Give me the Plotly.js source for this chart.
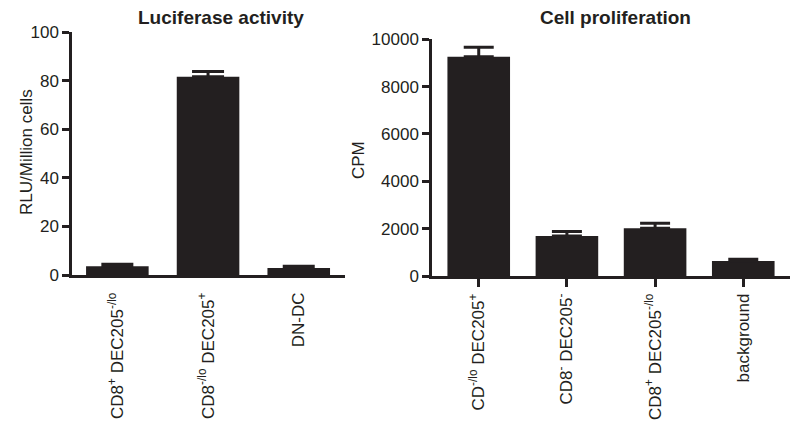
<!DOCTYPE html>
<html>
<head>
<meta charset="utf-8">
<script src="https://cdn.plot.ly/plotly-3.0.1.min.js"></script>
<style>
  html, body { margin: 0; padding: 0; background: #fff; }
  #graph1 { width: 800px; height: 432px; }
</style>
</head>
<body>
<div id="graph1"></div>
<script>
(function() {
  // Luciferase activity (left panel)
  const lucCats = ['CD8<sup>+</sup> DEC205<sup>-/lo</sup>', 'CD8<sup>-/lo</sup> DEC205<sup>+</sup>', 'DN-DC'];
  const lucValues = [3.6, 81.6, 2.9];
  const lucErr = [0.8, 2.1, 0.7];

  // Cell proliferation (right panel)
  const prolCats = ['CD<sup>-/lo</sup> DEC205<sup>+</sup>', 'CD8<sup>-</sup> DEC205<sup>-</sup>', 'CD8<sup>+</sup> DEC205<sup>-/lo</sup>', 'background'];
  const prolValues = [9265, 1690, 2015, 634];
  const prolErr = [400, 185, 210, 70];

  const ink = '#231f20';
  const font = {family: 'Liberation Sans, Arial, sans-serif', size: 17, color: ink};

  const px = x => x / 800;
  const py = y => 1 - y / 432;

  const traceLuc = {
    x: [0, 1, 2], y: lucValues, type: 'bar', width: 0.69,
    marker: {color: ink, line: {width: 0}},
    error_y: {type: 'data', symmetric: false, array: lucErr, arrayminus: lucErr.map(() => 0),
              color: ink, thickness: 3, width: 16},
    xaxis: 'x', yaxis: 'y', hoverinfo: 'none'
  };
  const traceProl = {
    x: [0, 1, 2, 3], y: prolValues, type: 'bar', width: 0.71,
    marker: {color: ink, line: {width: 0}},
    error_y: {type: 'data', symmetric: false, array: prolErr, arrayminus: prolErr.map(() => 0),
              color: ink, thickness: 3, width: 15},
    xaxis: 'x2', yaxis: 'y2', hoverinfo: 'none'
  };

  const axisCommon = {showgrid: false, zeroline: false, showline: true, linecolor: ink, linewidth: 2.5,
                      tickcolor: ink, tickwidth: 2.5, tickfont: font, automargin: false, fixedrange: true};

  const layout = {
    width: 800, height: 432,
    margin: {l: 0, r: 0, t: 0, b: 0},
    paper_bgcolor: '#fff', plot_bgcolor: '#fff',
    showlegend: false, font: font,
    xaxis: Object.assign({}, axisCommon, {
      domain: [px(72), px(345)], range: [-0.5, 2.51], anchor: 'y',
      tickmode: 'array', tickvals: [0, 1, 2], ticktext: lucCats,
      ticks: 'outside', ticklen: 8, tickcolor: 'rgba(0,0,0,0)', tickangle: -90
    }),
    yaxis: Object.assign({}, axisCommon, {
      domain: [py(275), py(32)], range: [0, 100], anchor: 'x',
      tickmode: 'array', tickvals: [0, 20, 40, 60, 80, 100], ticks: 'outside', ticklen: 7
    }),
    xaxis2: Object.assign({}, axisCommon, {
      domain: [px(432), px(790)], range: [-0.53, 3.53], anchor: 'y2',
      tickmode: 'array', tickvals: [0, 1, 2, 3], ticktext: prolCats,
      ticks: 'outside', ticklen: 8, tickangle: -90
    }),
    yaxis2: Object.assign({}, axisCommon, {
      domain: [py(276), py(39.3)], range: [0, 10000], anchor: 'x2',
      tickmode: 'array', tickvals: [0, 2000, 4000, 6000, 8000, 10000], tickformat: 'd',
      ticks: 'outside', ticklen: 7
    }),
    annotations: [
      {text: '<b>Luciferase activity</b>', x: px(221), y: py(17), xref: 'paper', yref: 'paper',
       xanchor: 'center', yanchor: 'middle', showarrow: false,
       font: {family: font.family, size: 19, color: ink}},
      {text: '<b>Cell proliferation</b>', x: px(615), y: py(17), xref: 'paper', yref: 'paper',
       xanchor: 'center', yanchor: 'middle', showarrow: false,
       font: {family: font.family, size: 19, color: ink}},
      {text: 'RLU/Million cells', x: px(26), y: py(152), xref: 'paper', yref: 'paper',
       xanchor: 'center', yanchor: 'middle', textangle: -90, showarrow: false, font: font},
      {text: 'CPM', x: px(358), y: py(160), xref: 'paper', yref: 'paper',
       xanchor: 'center', yanchor: 'middle', textangle: -90, showarrow: false, font: font}
    ]
  };

  Plotly.newPlot('graph1', [traceLuc, traceProl], layout, {displayModeBar: false});
})();
</script>
</body>
</html>
